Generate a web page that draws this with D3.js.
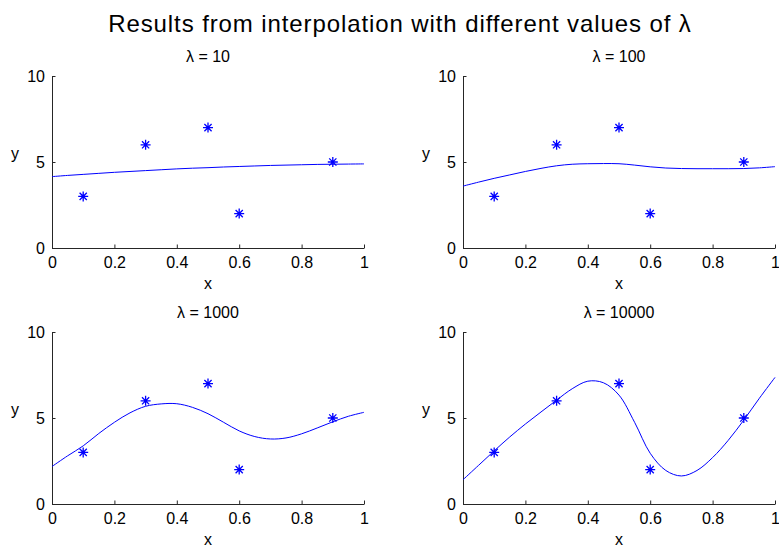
<!DOCTYPE html>
<html>
<head>
<meta charset="utf-8">
<script src="https://cdn.jsdelivr.net/npm/d3@7"></script>
<style>
  html, body { margin: 0; padding: 0; background: #fff; }
  svg text { font-family: "Liberation Sans", Arial, Helvetica, sans-serif; fill: #000; }
</style>
</head>
<body>
<svg id="chart" width="779" height="550"></svg>
<script>
// Observed samples
const sampleX = [0.1, 0.3, 0.5, 0.6, 0.9];
const sampleY = [3, 6, 7, 2, 5];

// Evaluation grid for the interpolated curves
const gridX = [0, 0.05, 0.1, 0.15, 0.2, 0.25, 0.3, 0.35, 0.4, 0.45, 0.5,
               0.55, 0.6, 0.65, 0.7, 0.75, 0.8, 0.85, 0.9, 0.95, 1];

// Interpolated curves, one per lambda
const fit10    = [4.15, 4.22, 4.28, 4.34, 4.40, 4.45, 4.50, 4.55, 4.60, 4.64, 4.67,
                  4.71, 4.74, 4.77, 4.80, 4.82, 4.84, 4.86, 4.87, 4.88, 4.89];
const fit100   = [3.60, 3.83, 4.05, 4.25, 4.45, 4.63, 4.78, 4.87, 4.90, 4.91, 4.90,
                  4.82, 4.72, 4.65, 4.62, 4.61, 4.61, 4.61, 4.62, 4.66, 4.73];
const fit1000  = [2.18, 2.80, 3.38, 4.10, 4.75, 5.30, 5.68, 5.82, 5.83, 5.62, 5.25,
                  4.75, 4.25, 3.92, 3.78, 3.84, 4.08, 4.42, 4.78, 5.10, 5.33];
const fit10000 = [1.41, 2.25, 3.09, 3.90, 4.65, 5.35, 6.04, 6.70, 7.14, 7.05, 6.33,
                  4.75, 2.95, 1.95, 1.63, 1.95, 2.70, 3.70, 4.88, 6.15, 7.36];

const lambdas = ["10", "100", "1000", "10000"];
const fits = [fit10, fit100, fit1000, fit10000];

const xTicks = [0, 0.2, 0.4, 0.6, 0.8, 1];
const yTicks = [0, 5, 10];

const svg = d3.select("#chart");
const blue = "#0000ff";
const axisColor = "#262626";

// Figure title
svg.append("text")
  .attr("x", 400).attr("y", 32)
  .attr("text-anchor", "middle")
  .style("font-size", "24px")
  .style("letter-spacing", "0.9px")
  .text("Results from interpolation with different values of λ");

// Panel placement (2 x 2)
const panelW = 312, panelH = 172;
const origins = [[52, 76], [463, 76], [52, 332], [463, 332]];

function asterisk(cx, cy) {
  const p = d3.path();
  const r = 5, d = 3.6;
  p.moveTo(cx - r, cy); p.lineTo(cx + r, cy);
  p.moveTo(cx, cy - r); p.lineTo(cx, cy + r);
  p.moveTo(cx - d, cy - d); p.lineTo(cx + d, cy + d);
  p.moveTo(cx - d, cy + d); p.lineTo(cx + d, cy - d);
  return p.toString();
}

fits.forEach((fit, i) => {
  const [ox, oy] = origins[i];
  const g = svg.append("g").attr("transform", `translate(${ox},${oy})`);

  const x = d3.scaleLinear().domain([0, 1]).range([0, panelW]);
  const y = d3.scaleLinear().domain([0, 10]).range([panelH, 0]);

  // Axes with inward ticks
  const xAxis = d3.axisBottom(x).tickValues(xTicks).tickFormat(d3.format("~g"))
    .tickSizeInner(-3.5).tickSizeOuter(0).tickPadding(9);
  const yAxis = d3.axisLeft(y).tickValues(yTicks).tickFormat(d3.format("~g"))
    .tickSizeInner(-3.5).tickSizeOuter(0).tickPadding(7);

  const gx = g.append("g").attr("transform", `translate(0,${panelH})`).call(xAxis);
  const gy = g.append("g").call(yAxis);
  [gx, gy].forEach(a => {
    a.selectAll("path, line").attr("stroke", axisColor).attr("stroke-width", 1);
    a.selectAll("text").style("font-size", "16px").attr("fill", "#000")
      .style("font-family", "'Liberation Sans', Arial, sans-serif");
  });

  // Interpolated curve
  const line = d3.line()
    .x((d, j) => x(gridX[j]))
    .y(d => y(d))
    .curve(d3.curveCatmullRom.alpha(0.5));
  g.append("path")
    .datum(fit)
    .attr("d", line)
    .attr("fill", "none")
    .attr("stroke", blue)
    .attr("stroke-width", 1);

  // Sample markers
  g.selectAll("path.marker")
    .data(sampleX)
    .join("path")
    .attr("class", "marker")
    .attr("d", (d, j) => asterisk(x(d), y(sampleY[j])))
    .attr("stroke", blue)
    .attr("stroke-width", 1.3)
    .attr("fill", "none");

  // Panel title and axis labels
  g.append("text")
    .attr("x", panelW / 2).attr("y", -14)
    .attr("text-anchor", "middle")
    .style("font-size", "16px")
    .text("λ = " + lambdas[i]);

  g.append("text")
    .attr("x", panelW / 2).attr("y", panelH + 41)
    .attr("text-anchor", "middle")
    .style("font-size", "16px")
    .text("x");

  g.append("text")
    .attr("x", -37).attr("y", panelH / 2 - 3)
    .attr("text-anchor", "middle")
    .style("font-size", "16px")
    .text("y");
});
</script>
</body>
</html>
